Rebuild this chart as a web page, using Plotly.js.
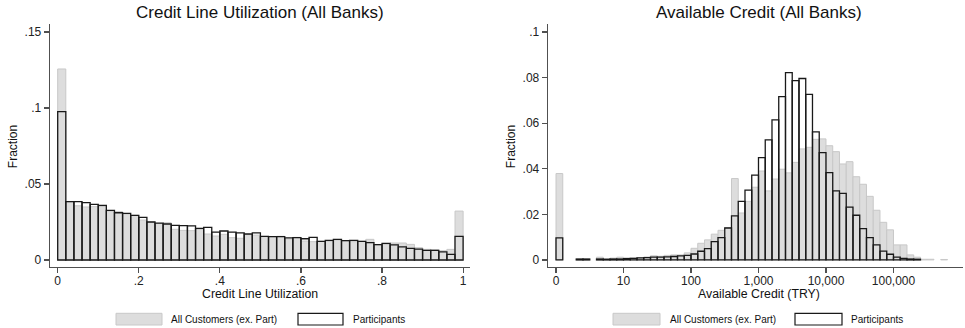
<!DOCTYPE html>
<html>
<head>
<meta charset="utf-8">
<script src="https://cdn.plot.ly/plotly-3.0.1.min.js"></script>
<style>html,body{margin:0;padding:0;background:#fff;}#chart{width:965px;height:328px;}</style>
</head>
<body>
<div id="chart"></div>
<script>
// ---------- Data ----------
// Left panel: Credit line utilization, 50 bins of width 0.02 starting at 0
const utilBinStart = 0;
const utilBinWidth = 0.02;
const utilAllCustomers = [
  0.1257, 0.0382, 0.0357, 0.0349, 0.0351, 0.0352, 0.0322, 0.0318, 0.0303, 0.0294,
  0.0263, 0.0250, 0.0241, 0.0245, 0.0202, 0.0195, 0.0193, 0.0202, 0.0171, 0.0158,
  0.0169, 0.0147, 0.0143, 0.0167, 0.0164, 0.0154, 0.0154, 0.0156, 0.0138, 0.0149,
  0.0125, 0.0121, 0.0123, 0.0123, 0.0132, 0.0123, 0.0121, 0.0123, 0.0136, 0.0096,
  0.0103, 0.0112, 0.0112, 0.0103, 0.0081, 0.0070, 0.0068, 0.0061, 0.0070, 0.0322
];
const utilParticipants = [
  0.0976, 0.0384, 0.0384, 0.0377, 0.0366, 0.0360, 0.0327, 0.0311, 0.0307, 0.0294,
  0.0281, 0.0250, 0.0243, 0.0237, 0.0228, 0.0226, 0.0224, 0.0208, 0.0215, 0.0184,
  0.0191, 0.0184, 0.0178, 0.0171, 0.0178, 0.0156, 0.0154, 0.0154, 0.0145, 0.0147,
  0.0140, 0.0149, 0.0123, 0.0129, 0.0136, 0.0127, 0.0129, 0.0123, 0.0114, 0.0101,
  0.0110, 0.0099, 0.0086, 0.0077, 0.0072, 0.0064, 0.0064, 0.0053, 0.0037, 0.0156
];
const utilTickVals = [0, 0.2, 0.4, 0.6, 0.8, 1];
const utilTickText = ['0', '.2', '.4', '.6', '.8', '1'];
const utilYTickVals = [0, 0.05, 0.1, 0.15];
const utilYTickText = ['0', '.05', '.1', '.15'];

// Right panel: Available credit, bins of width 0.1 in log10 units starting at 0
const credBinStart = 0;
const credBinWidth = 0.1;
const credAllCustomers = [
  0.0379, null, null, 0.0003, 0.0003, null, 0.0012, 0.0004, 0.0008, 0.0012,
  0.0009, 0.0009, 0.0010, 0.0013, 0.0018, 0.0016, 0.0020, 0.0022, 0.0022, 0.0031,
  0.0051, 0.0073, 0.0088, 0.0113, 0.0130, 0.0142, 0.0357, 0.0206, 0.0257, 0.0319,
  0.0390, 0.0303, 0.0355, 0.0398, 0.0382, 0.0428, 0.0487, 0.0494, 0.0529, 0.0531,
  0.0501, 0.0475, 0.0421, 0.0431, 0.0365, 0.0332, 0.0279, 0.0218, 0.0165, 0.0132,
  0.0066, 0.0066, 0.0022, 0.0012, 0.0003, 0.0003, null, 0.0002
];
const credParticipants = [
  0.0097, null, null, 0.0004, 0.0004, null, 0.0004, 0.0003, 0.0004, 0.0004,
  0.0006, 0.0007, 0.0009, 0.0010, 0.0012, 0.0012, 0.0013, 0.0015, 0.0018, 0.0020,
  0.0026, 0.0038, 0.0050, 0.0080, 0.0098, 0.0140, 0.0193, 0.0257, 0.0306, 0.0372,
  0.0449, 0.0527, 0.0614, 0.0716, 0.0822, 0.0787, 0.0796, 0.0726, 0.0562, 0.0471,
  0.0383, 0.0303, 0.0292, 0.0232, 0.0196, 0.0137, 0.0098, 0.0066, 0.0039, 0.0025,
  0.0012, 0.0007, 0.0004, 0.0003, null, null, null, null
];
const credTickVals = [0, 1, 2, 3, 4, 5];
const credTickText = ['0', '10', '100', '1,000', '10,000', '100,000'];
const credYTickVals = [0, 0.02, 0.04, 0.06, 0.08, 0.1];
const credYTickText = ['0', '.02', '.04', '.06', '.08', '.1'];

const titles = ['Credit Line Utilization (All Banks)', 'Available Credit (All Banks)'];
const xTitles = ['Credit Line Utilization', 'Available Credit (TRY)'];
const yTitle = 'Fraction';
const legendNames = ['All Customers (ex. Part)', 'Participants'];

// ---------- Styling ----------
const W = 965, H = 328;
const xp = p => p / W;
const yp = p => 1 - p / H;
const FONT = '"Liberation Sans", Arial, Helvetica, sans-serif';
const grayFill = 'rgb(221,221,221)';
const grayLine = 'rgb(200,200,200)';
const blackLine = 'rgb(25,25,25)';
const axisColor = 'rgb(80,80,80)';

const centers = (start, w, n) => Array.from({length: n}, (_, i) => start + w * (i + 0.5));

const uX = centers(utilBinStart, utilBinWidth, utilAllCustomers.length);
const cX = centers(credBinStart, credBinWidth, credAllCustomers.length);

function grayTrace(x, y, w, xa, ya) {
  return {type: 'bar', x: x, y: y, width: w, xaxis: xa, yaxis: ya, name: legendNames[0],
    marker: {color: grayFill, line: {color: grayLine, width: 1}}, showlegend: false, hoverinfo: 'skip'};
}
function blackTrace(x, y, w, xa, ya) {
  return {type: 'bar', x: x, y: y, width: w, xaxis: xa, yaxis: ya, name: legendNames[1],
    marker: {color: 'rgba(0,0,0,0)', line: {color: blackLine, width: 1.3}}, showlegend: false, hoverinfo: 'skip'};
}

const data = [
  grayTrace(uX, utilAllCustomers, utilBinWidth, 'x', 'y'),
  blackTrace(uX, utilParticipants, utilBinWidth, 'x', 'y'),
  grayTrace(cX, credAllCustomers, credBinWidth, 'x2', 'y2'),
  blackTrace(cX, credParticipants, credBinWidth, 'x2', 'y2')
];

const yDom = [yp(267), yp(24)];
const axCommon = {
  showline: true, linecolor: axisColor, linewidth: 1.3, showgrid: false, zeroline: false,
  ticks: 'outside', ticklen: 5, tickwidth: 1.2, tickcolor: axisColor,
  tickfont: {family: FONT, size: 12, color: '#222'}, tickmode: 'array', fixedrange: true
};

const layout = {
  width: W, height: H,
  margin: {l: 0, r: 0, t: 0, b: 0},
  paper_bgcolor: '#fff', plot_bgcolor: '#fff',
  barmode: 'overlay', bargap: 0,
  showlegend: false,
  font: {family: FONT, color: '#222'},
  xaxis: Object.assign({}, axCommon, {domain: [xp(50), xp(470)], range: [-0.019, 1.017],
    tickvals: utilTickVals, ticktext: utilTickText, anchor: 'y', ticklabelstandoff: -3}),
  yaxis: Object.assign({}, axCommon, {domain: yDom, range: [-0.0046, 0.1553],
    tickvals: utilYTickVals, ticktext: utilYTickText, anchor: 'x'}),
  xaxis2: Object.assign({}, axCommon, {domain: [xp(548), xp(963)], range: [-0.1185, 6.03],
    tickvals: credTickVals, ticktext: credTickText, anchor: 'y2', ticklabelstandoff: -3}),
  yaxis2: Object.assign({}, axCommon, {domain: yDom, range: [-0.0031, 0.1035],
    tickvals: credYTickVals, ticktext: credYTickText, anchor: 'x2'}),
  annotations: [],
  shapes: []
};

const panels = [
  {titleX: 260, yTitleX: 12.7, legGray: [116, 162], legGrayText: 169, legBlack: [298, 343], legBlackText: 351},
  {titleX: 758.5, yTitleX: 510.7, legGray: [613, 660], legGrayText: 668, legBlack: [795, 842], legBlackText: 849}
];

panels.forEach((p, i) => {
  layout.annotations.push({text: titles[i], xref: 'paper', yref: 'paper', x: xp(p.titleX), y: yp(12.5),
    xanchor: 'center', yanchor: 'middle', showarrow: false, font: {family: FONT, size: 17, color: '#111'}});
  layout.annotations.push({text: xTitles[i], xref: 'paper', yref: 'paper', x: xp(p.titleX), y: yp(294),
    xanchor: 'center', yanchor: 'middle', showarrow: false, font: {family: FONT, size: 12.3, color: '#111'}});
  layout.annotations.push({text: yTitle, xref: 'paper', yref: 'paper', x: xp(p.yTitleX), y: yp(146.5),
    xanchor: 'center', yanchor: 'middle', textangle: -90, showarrow: false, font: {family: FONT, size: 12, color: '#111'}});
  // legend keys
  layout.shapes.push({type: 'rect', xref: 'paper', yref: 'paper', x0: xp(p.legGray[0]), x1: xp(p.legGray[1]),
    y0: yp(325), y1: yp(313.3), fillcolor: grayFill, line: {color: grayLine, width: 1}});
  layout.shapes.push({type: 'rect', xref: 'paper', yref: 'paper', x0: xp(p.legBlack[0]), x1: xp(p.legBlack[1]),
    y0: yp(325), y1: yp(313.3), fillcolor: 'rgba(0,0,0,0)', line: {color: blackLine, width: 1.2}});
  layout.annotations.push({text: legendNames[0], xref: 'paper', yref: 'paper', x: xp(p.legGrayText), y: yp(319.5),
    xanchor: 'left', yanchor: 'middle', showarrow: false, font: {family: FONT, size: 10, color: '#111'}});
  layout.annotations.push({text: legendNames[1], xref: 'paper', yref: 'paper', x: xp(p.legBlackText), y: yp(319.5),
    xanchor: 'left', yanchor: 'middle', showarrow: false, font: {family: FONT, size: 10, color: '#111'}});
});

Plotly.newPlot('chart', data, layout, {displayModeBar: false, staticPlot: true});
</script>
</body>
</html>
